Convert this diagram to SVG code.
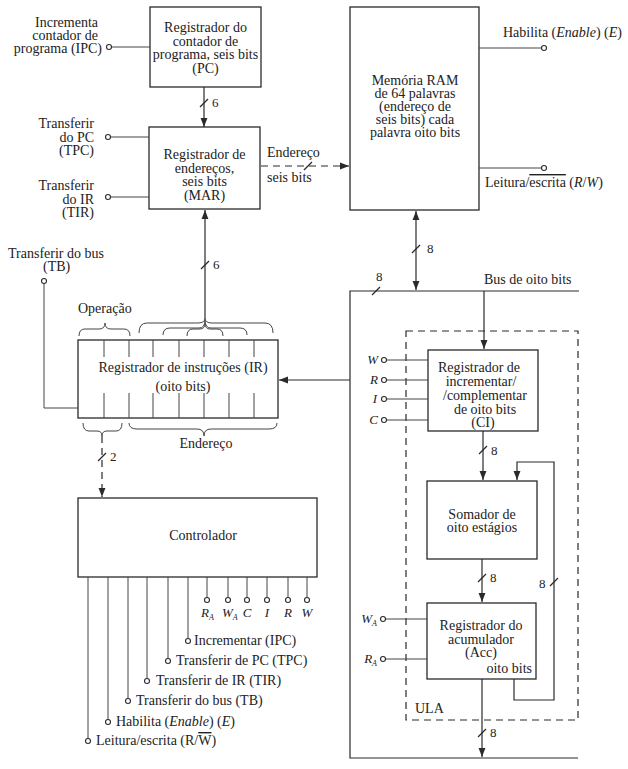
<svg xmlns="http://www.w3.org/2000/svg" width="628" height="769" viewBox="0 0 628 769">
<defs>
<marker id="arr" viewBox="0 0 10 10" refX="10" refY="5" markerWidth="9" markerHeight="9" markerUnits="userSpaceOnUse" orient="auto-start-reverse">
<path d="M0,1.2 L10,5 L0,8.8 z" fill="#2a2a2a"/>
</marker>
</defs>
<style>
text{font-family:"Liberation Serif","Times New Roman",serif;font-size:14px;fill:#222}
.s{font-size:13px}
.c{text-anchor:middle}
.e{text-anchor:end}
.i{font-style:italic}
.box{fill:none;stroke:#2a2a2a;stroke-width:1.3}
.ln{fill:none;stroke:#2a2a2a;stroke-width:1.2}
.dash{fill:none;stroke:#2a2a2a;stroke-width:1.2;stroke-dasharray:7,5}
.pin{fill:#fff;stroke:#2a2a2a;stroke-width:1.1}
.thin{fill:none;stroke:#444;stroke-width:1}
</style>
<rect width="628" height="769" fill="#fff"/>

<g id="connectors">
<path class="ln" d="M204,87 V127" marker-end="url(#arr)"/>
<path class="ln" d="M200,107 L208,99"/>
<text class="s" x="212" y="107">6</text>
<path class="dash" d="M261,166 H349" marker-end="url(#arr)"/>
<path class="ln" d="M304,170 L312,162"/>
<path class="ln" d="M205,318 V210" marker-end="url(#arr)"/>
<path class="ln" d="M201,269 L209,261"/>
<text class="s" x="213" y="269">6</text>
<path class="ln" d="M416,211 V290" marker-start="url(#arr)" marker-end="url(#arr)"/>
<path class="ln" d="M412,253 L420,245"/>
<text class="s" x="427" y="253">8</text>
<path class="ln" d="M579,291 H350 V758 H578"/>
<path class="ln" d="M372,295 L380,287"/>
<text class="s" x="376" y="281">8</text>
<text x="484" y="284">Bus de oito bits</text>
<path class="ln" d="M350,380 H279" marker-end="url(#arr)"/>
<path class="ln" d="M484,291 V349" marker-end="url(#arr)"/>
<path class="ln" d="M483,431 V480" marker-end="url(#arr)"/>
<path class="ln" d="M479,454 L487,446"/>
<text class="s" x="491" y="455">8</text>
<path class="ln" d="M482,559 V602" marker-end="url(#arr)"/>
<path class="ln" d="M478,582 L486,574"/>
<text class="s" x="490" y="582">8</text>
<path class="ln" d="M482,679 V757" marker-end="url(#arr)"/>
<path class="ln" d="M478,737 L486,729"/>
<text class="s" x="490" y="737">8</text>
<path class="ln" d="M514,679 V700 H554 V462 H517 V480" marker-end="url(#arr)"/>
<path class="ln" d="M550,586 L558,578"/>
<text class="s" x="539" y="588">8</text>
<path class="dash" d="M102,436 V497" marker-end="url(#arr)"/>
<path class="ln" d="M98,461 L106,453"/>
<text class="s" x="110" y="461">2</text>
</g>

<g id="pc">
<rect class="box" x="150" y="7" width="111" height="80"/>
<text class="c" x="205.5" y="32">Registrador do</text>
<text class="c" x="205.5" y="45.5">contador de</text>
<text class="c" x="205.5" y="59">programa, seis bits</text>
<text class="c" x="205.5" y="72.5">(PC)</text>
</g>
<g id="ipc">
<text class="e" x="98" y="27">Incrementa</text>
<text class="e" x="98" y="40">contador de</text>
<text class="e" x="102" y="53">programa (IPC)</text>
<path class="thin" d="M111.5,47 H150"/>
<circle class="pin" cx="109" cy="47" r="2.5"/>
</g>

<g id="mar">
<rect class="box" x="149" y="127" width="111" height="82"/>
<text class="c" x="204.5" y="159">Registrador de</text>
<text class="c" x="204.5" y="172.5">endereços,</text>
<text class="c" x="204.5" y="186">seis bits</text>
<text class="c" x="204.5" y="199.5">(MAR)</text>
<text x="267" y="157">Endereço</text>
<text x="267" y="182">seis bits</text>
</g>
<g id="tpc">
<text class="e" x="94" y="128">Transferir</text>
<text class="e" x="94" y="141.5">do PC</text>
<text class="e" x="94" y="155">(TPC)</text>
<path class="thin" d="M110.5,137 H149"/>
<circle class="pin" cx="108" cy="137" r="2.5"/>
</g>
<g id="tir">
<text class="e" x="94" y="190">Transferir</text>
<text class="e" x="94" y="203.5">do IR</text>
<text class="e" x="94" y="217">(TIR)</text>
<path class="thin" d="M110.5,197 H149"/>
<circle class="pin" cx="108" cy="197" r="2.5"/>
</g>

<g id="ram">
<rect class="box" x="350" y="7" width="129" height="203"/>
<text class="c" x="415" y="85">Memória RAM</text>
<text class="c" x="415" y="98">de 64 palavras</text>
<text class="c" x="415" y="111">(endereço de</text>
<text class="c" x="415" y="124">seis bits) cada</text>
<text class="c" x="415" y="137">palavra oito bits</text>
</g>
<g id="enable">
<path class="thin" d="M479,48 H541.5"/>
<circle class="pin" cx="544" cy="48" r="2.5"/>
<text x="503" y="37">Habilita (<tspan class="i">Enable</tspan>) (<tspan class="i">E</tspan>)</text>
</g>
<g id="rw">
<path class="thin" d="M479,168 H541.5"/>
<circle class="pin" cx="544" cy="168" r="2.5"/>
<text x="485" y="187">Leitura/<tspan style="text-decoration:overline">escrita</tspan> (<tspan class="i">R</tspan>/<tspan class="i">W</tspan>)</text>
</g>

<g id="ir">
<rect class="box" x="78" y="340" width="200" height="78"/>
<path class="thin" d="M104,340 V357 M129,340 V357 M153,340 V357 M179,340 V357 M204,340 V357 M229,340 V357 M254,340 V357 M104,393 V418 M129,393 V418 M153,393 V418 M179,393 V418 M204,393 V418 M229,393 V418 M254,393 V418"/>
<text class="c" x="183" y="372">Registrador de instruções (IR)</text>
<text class="c" x="183" y="391">(oito bits)</text>
<text x="78" y="313">Operação</text>
<path class="thin" d="M79,336 Q79,329 85,329 H99 Q105,329 105,323 Q105,329 111,329 H124 Q130,329 130,336"/>
<path class="thin" d="M139,333 Q139,323 147,323 H198 Q205,323 205,318 Q205,323 212,323 H265 Q273,323 273,333"/>
<path class="thin" d="M163,335 Q163,328 170,328 H199 Q205,328 205,320 Q205,328 211,328 H240 Q247,328 247,335"/>
<path class="thin" d="M187,336 Q187,329 193,329 H200 Q205,329 205,323 Q205,329 210,329 H217 Q223,329 223,336"/>
<path class="thin" d="M83,423 Q83,431 89,431 H97 Q102,431 102,436 Q102,431 107,431 H116 Q122,431 122,423"/>
<path class="thin" d="M129,423 Q129,429 137,429 H197 Q204,429 204,436 Q204,429 211,429 H269 Q277,429 277,423"/>
<text class="c" x="206" y="448">Endereço</text>
</g>
<g id="tb">
<text x="8" y="258">Transferir do bus</text>
<text x="43" y="271">(TB)</text>
<path class="thin" d="M44,283.5 V408 H78"/>
<circle class="pin" cx="44" cy="281" r="2.5"/>
</g>

<g id="ula">
<rect class="dash" x="406" y="331" width="172" height="389"/>
<text x="415" y="713">ULA</text>
</g>
<g id="ci">
<rect class="box" x="428" y="350" width="110" height="81"/>
<text class="c" x="479" y="372">Registrador de</text>
<text class="c" x="481" y="386">incrementar/</text>
<text class="c" x="485" y="400">/complementar</text>
<text class="c" x="485" y="414">de oito bits</text>
<text class="c" x="483" y="427">(CI)</text>
<path class="thin" d="M386.5,360 H428 M386.5,380 H428 M386.5,399 H428 M386.5,420 H428"/>
<circle class="pin" cx="384" cy="360" r="2.5"/>
<circle class="pin" cx="384" cy="380" r="2.5"/>
<circle class="pin" cx="384" cy="399" r="2.5"/>
<circle class="pin" cx="384" cy="420" r="2.5"/>
<text class="s i e" x="378" y="364">W</text>
<text class="s i e" x="378" y="384">R</text>
<text class="s i e" x="377" y="403">I</text>
<text class="s i e" x="378" y="424">C</text>
</g>
<g id="somador">
<rect class="box" x="427" y="481" width="110" height="78"/>
<text class="c" x="482" y="519">Somador de</text>
<text class="c" x="482" y="532">oito estágios</text>
</g>
<g id="acc">
<rect class="box" x="427" y="603" width="109" height="76"/>
<text class="c" x="481" y="630">Registrador do</text>
<text class="c" x="481" y="644">acumulador</text>
<text class="c" x="481" y="657">(Acc)</text>
<text class="e" x="532" y="673">oito bits</text>
<path class="thin" d="M385.5,619 H427 M385.5,659 H427"/>
<circle class="pin" cx="383" cy="619" r="2.5"/>
<circle class="pin" cx="383" cy="659" r="2.5"/>
<text class="s i e" x="377" y="623">W<tspan font-size="8" dy="3">A</tspan></text>
<text class="s i e" x="377" y="663">R<tspan font-size="8" dy="3">A</tspan></text>
</g>

<g id="controlador">
<rect class="box" x="78" y="498" width="239" height="79"/>
<text class="c" x="203" y="540">Controlador</text>
<path class="thin" d="M207,577 V597.5 M228,577 V597.5 M247,577 V597.5 M267,577 V597.5 M288,577 V597.5 M307,577 V597.5"/>
<circle class="pin" cx="207" cy="600" r="2.5"/>
<circle class="pin" cx="228" cy="600" r="2.5"/>
<circle class="pin" cx="247" cy="600" r="2.5"/>
<circle class="pin" cx="267" cy="600" r="2.5"/>
<circle class="pin" cx="288" cy="600" r="2.5"/>
<circle class="pin" cx="307" cy="600" r="2.5"/>
<text class="s i" x="201" y="617">R<tspan font-size="8" dy="3">A</tspan></text>
<text class="s i" x="222" y="617">W<tspan font-size="8" dy="3">A</tspan></text>
<text class="s i c" x="247" y="617">C</text>
<text class="s i c" x="267" y="617">I</text>
<text class="s i c" x="288" y="617">R</text>
<text class="s i c" x="307" y="617">W</text>
<path class="thin" d="M188,577 V638.5 M168,577 V658.5 M147,577 V678.5 M128,577 V698.5 M108,577 V719.5 M88,577 V738.5"/>
<circle class="pin" cx="188" cy="641" r="2.5"/>
<circle class="pin" cx="168" cy="661" r="2.5"/>
<circle class="pin" cx="147" cy="681" r="2.5"/>
<circle class="pin" cx="128" cy="701" r="2.5"/>
<circle class="pin" cx="108" cy="722" r="2.5"/>
<circle class="pin" cx="88" cy="741" r="2.5"/>
<text x="194" y="645">Incrementar (IPC)</text>
<text x="176" y="665">Transferir de PC (TPC)</text>
<text x="156" y="685">Transferir de IR (TIR)</text>
<text x="136" y="705">Transferir do bus (TB)</text>
<text x="116" y="726">Habilita (<tspan class="i">Enable</tspan>) (<tspan class="i">E</tspan>)</text>
<text x="96" y="745">Leitura/escrita (R/<tspan style="text-decoration:overline">W</tspan>)</text>
</g>
</svg>
